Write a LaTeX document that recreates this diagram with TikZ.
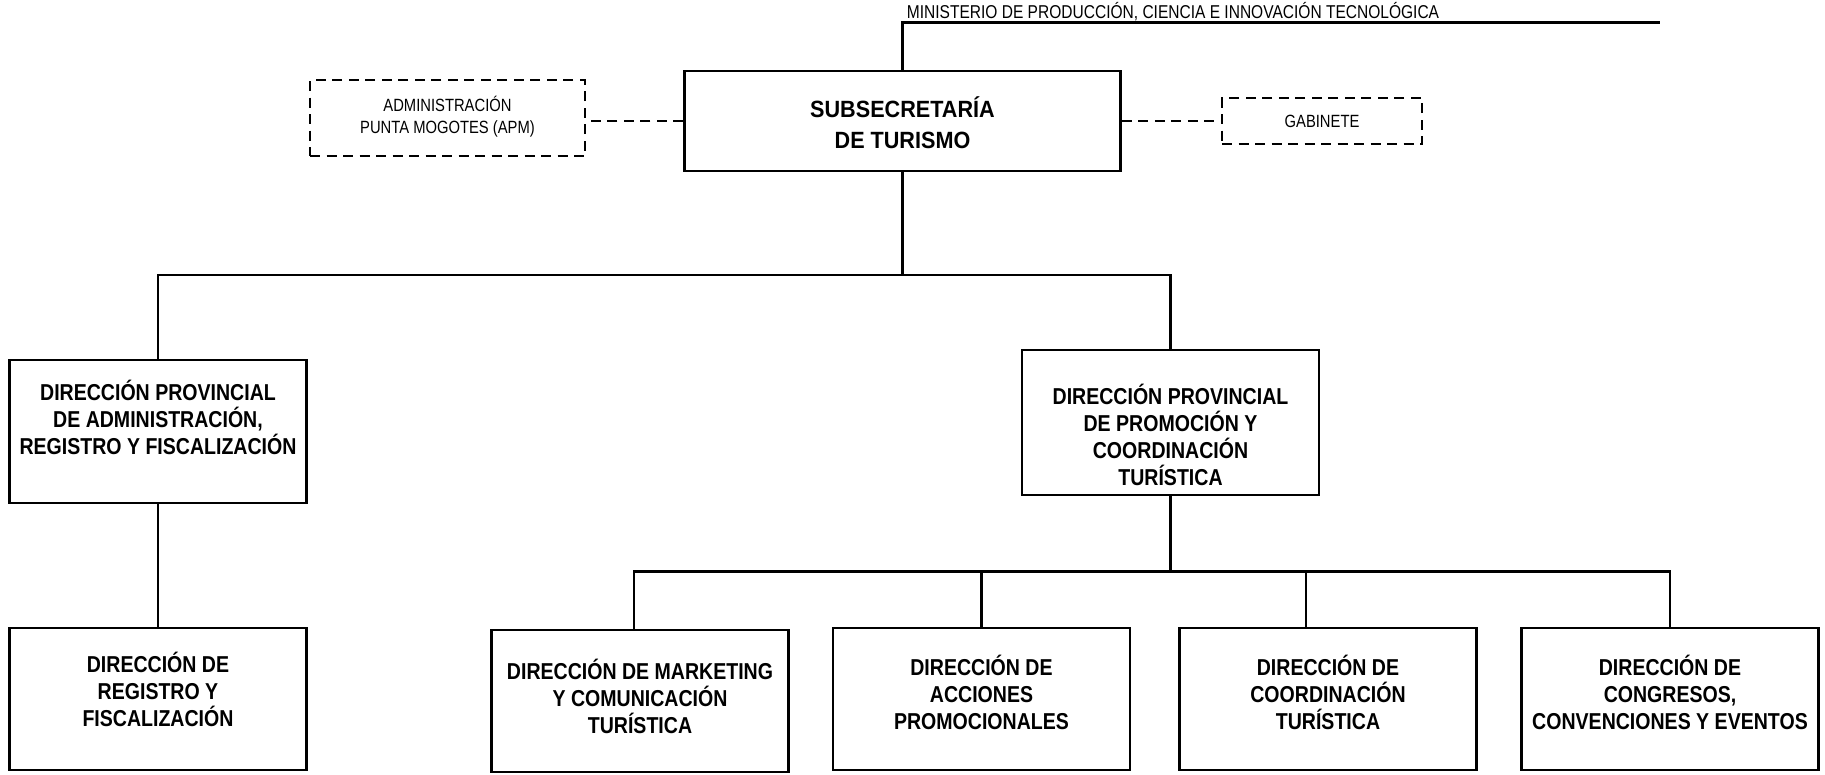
\documentclass[tikz,border=0pt]{standalone}
\usepackage{fontspec}
\setmainfont{Liberation Sans}[FakeStretch=0.835]
\newfontfamily\bnarrow{Liberation Sans}[FakeStretch=0.85]
\newfontfamily\bsub{Liberation Sans}[FakeStretch=0.92]
\begin{document}
\begin{tikzpicture}[x=1pt,y=-1pt,
  box/.style={draw, line width=2.5pt, minimum width=297pt, minimum height=142pt, inner sep=0pt},
  boxtxt/.style={inner sep=0pt, align=center, font=\bnarrow\bfseries\fontsize{23}{27}\selectfont},
  dbox/.style={draw, line width=2.5pt, dash pattern=on 10pt off 6.5pt, inner sep=0pt, align=center, font=\fontsize{17.7}{21.7}\selectfont},
  conn/.style={line width=2.5pt},
  dconn/.style={line width=2.5pt, dash pattern=on 10pt off 6.5pt}]
\useasboundingbox (0,0) rectangle (1825,774);
% top
\node[anchor=base, inner sep=0pt, font=\fontsize{18.6}{21}\selectfont] (min) at (1173,18.3) {MINISTERIO DE PRODUCCIÓN, CIENCIA E INNOVACIÓN TECNOLÓGICA};
\coordinate (minend) at (1660,22.5);
\node[box, minimum width=436pt, minimum height=100pt] (sub) at (902.5,121) {};
\node[boxtxt, font=\bsub\bfseries\fontsize{23.5}{31}\selectfont] (subT) at (902.5,123) {SUBSECRETARÍA\\DE TURISMO};
\node[dbox, minimum width=275pt, minimum height=76pt] (apm) at (447.5,118) {};
\node[inner sep=0pt, align=center, font=\fontsize{17.7}{21.7}\selectfont] (apmT) at (447.5,117) {ADMINISTRACIÓN\\PUNTA MOGOTES (APM)};
\node[dbox, minimum width=200pt, minimum height=46pt] (gab) at (1322,121) {GABINETE};
% level 2
\node[box, minimum height=143pt] (dpa) at (158,431.5) {};
\node[boxtxt] (dpaT) at (158,417) {DIRECCIÓN PROVINCIAL\\DE ADMINISTRACIÓN,\\REGISTRO Y FISCALIZACIÓN};
\node[box, minimum height=145pt] (dpp) at (1170.5,422.5) {};
\node[boxtxt] (dppT) at (1170.5,435) {DIRECCIÓN PROVINCIAL\\DE PROMOCIÓN Y\\COORDINACIÓN\\TURÍSTICA};
% level 3
\node[box] (reg) at (158,699) {};
\node[boxtxt] (regT) at (158,689) {DIRECCIÓN DE\\REGISTRO Y\\FISCALIZACIÓN};
\node[box] (mkt) at (640,701) {};
\node[boxtxt] (mktT) at (640,696) {DIRECCIÓN DE MARKETING\\Y COMUNICACIÓN\\TURÍSTICA};
\node[box] (acc) at (981.5,699) {};
\node[boxtxt] (accT) at (981.5,692) {DIRECCIÓN DE\\ACCIONES\\PROMOCIONALES};
\node[box] (coo) at (1328,699) {};
\node[boxtxt] (cooT) at (1328,692) {DIRECCIÓN DE\\COORDINACIÓN\\TURÍSTICA};
\node[box] (con) at (1670,699) {};
\node[boxtxt] (conT) at (1670,692) {DIRECCIÓN DE\\CONGRESOS,\\CONVENCIONES Y EVENTOS};
% connectors
\draw[conn] (sub.north) |- (minend);
\draw[dconn] (sub.west) -- (sub.west -| apm.east);
\draw[dconn] (sub.east) -- (gab.west);
\coordinate (b1) at (0,275);
\coordinate (b2) at (0,571.5);
\draw[conn] (sub.south) -- (sub.south |- b1);
\draw[conn] (dpa.north) -- (dpa.north |- b1) -| (dpp.north);
\draw[conn] (dpa.south) -- (reg.north);
\draw[conn] (dpp.south) -- (dpp.south |- b2);
\draw[conn] ([xshift=-6pt]mkt.north) |- (con.north |- b2) -- (con.north);
\draw[conn] (acc.north) -- (acc.north |- b2);
\draw[conn] ([xshift=-22pt]coo.north) -- ([xshift=-22pt]coo.north |- b2);
\end{tikzpicture}
\end{document}
